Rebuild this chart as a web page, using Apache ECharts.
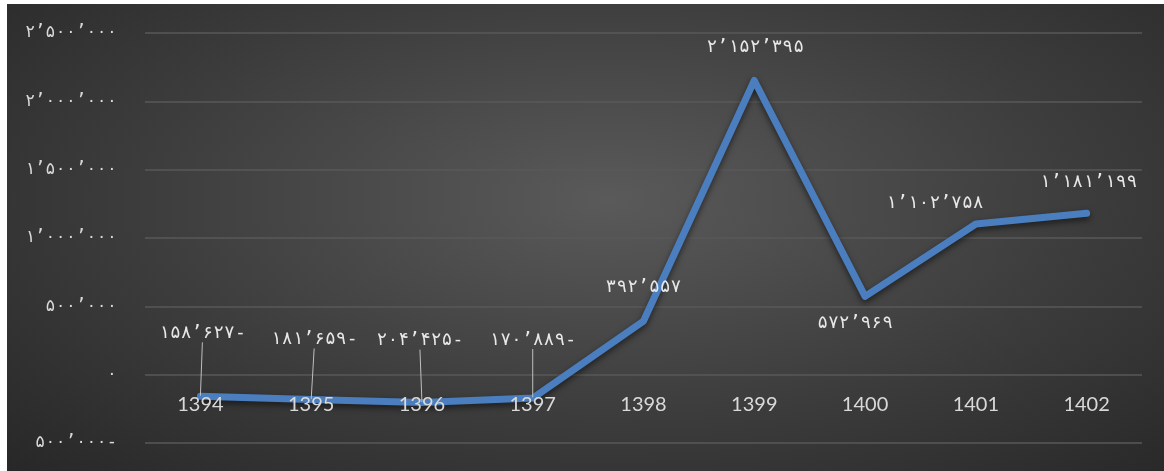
<!DOCTYPE html>
<html>
<head>
<meta charset="utf-8">
<script src="https://cdn.jsdelivr.net/npm/echarts@6/dist/echarts.min.js"></script>
<style>
html,body{margin:0;padding:0;background:#ffffff;}
#chart{position:absolute;left:7px;top:4px;width:1157px;height:467px;
background:radial-gradient(ellipse 75% 85% at 52% 42%, #5a5a5a 0%, #3c3c3c 55%, #262626 100%);}
</style>
</head>
<body>
<div id="chart"></div>
<script>
var categories = ['1394','1395','1396','1397','1398','1399','1400','1401','1402'];
var values = [-158627, -181659, -204425, -170889, 392557, 2152395, 572969, 1102758, 1181199];
var yTicks = {min: -500000, max: 2500000, interval: 500000};

var labelOffsets = [[2,-63],[3,-60],[-2,-62],[0,-58],[0,-34],[1,-33],[-10,27],[-41,-21],[2,-31]];
var leaderLines = [true,true,true,true,false,false,false,false,false];

function fa(n){
  var neg = n < 0;
  var s = Math.abs(Math.round(n)).toString().replace(/\B(?=(\d{3})+(?!\d))/g, '\u2019');
  s = s.replace(/\d/g, function(d){ return String.fromCharCode(0x06F0 + (+d)); });
  return neg ? s + '-' : s;
}

var FAFONT = '"DejaVu Sans Mono", "DejaVu Sans", monospace';
var chart = echarts.init(document.getElementById('chart'), null, {renderer:'canvas'});
var dataItems = values.map(function(v,i){
  return {value: v, labelLine: {show: leaderLines[i]}};
});
chart.setOption({
  backgroundColor: 'transparent',
  animation: false,
  grid: {left: 138, right: 22, top: 29, bottom: 28, containLabel: false, outerBoundsMode: 'none'},
  xAxis: {
    type: 'category',
    z: 10,
    data: categories,
    boundaryGap: true,
    axisLine: {show: false, onZero: false},
    axisTick: {show: false},
    axisLabel: {color: '#d9d9d9', fontSize: 20, fontFamily: 'Lato', inside: true, margin: 28},
    splitLine: {show: false}
  },
  yAxis: {
    type: 'value',
    z: 0,
    min: yTicks.min, max: yTicks.max, interval: yTicks.interval,
    axisLine: {show: false},
    axisTick: {show: false},
    axisLabel: {color: '#d9d9d9', fontSize: 17, fontFamily: FAFONT, margin: 28,
      formatter: function(v){ return fa(v); }},
    splitLine: {lineStyle: {color: '#595959', width: 1.5}}
  },
  series: [{
    type: 'line',
    data: dataItems,
    symbol: 'circle',
    symbolSize: 1,
    showSymbol: true,
    z: 2,
    itemStyle: {color: '#4a7ebf'},
    lineStyle: {color: '#4a7ebf', width: 7, cap: 'round', join: 'round',
      shadowColor: 'rgba(0,0,0,0.55)', shadowBlur: 6, shadowOffsetY: 3},
    label: {
      show: true, position: 'inside', color: '#e8e8e8', fontSize: 18, fontFamily: FAFONT,
      formatter: function(p){ return fa(p.value); }
    },
    labelLine: {show: false, lineStyle: {color: '#bfbfbf', width: 1}},
    labelLayout: function(p){
      var o = labelOffsets[p.dataIndex];
      return {dx: o[0], dy: o[1]};
    }
  }]
});
</script>
</body>
</html>
